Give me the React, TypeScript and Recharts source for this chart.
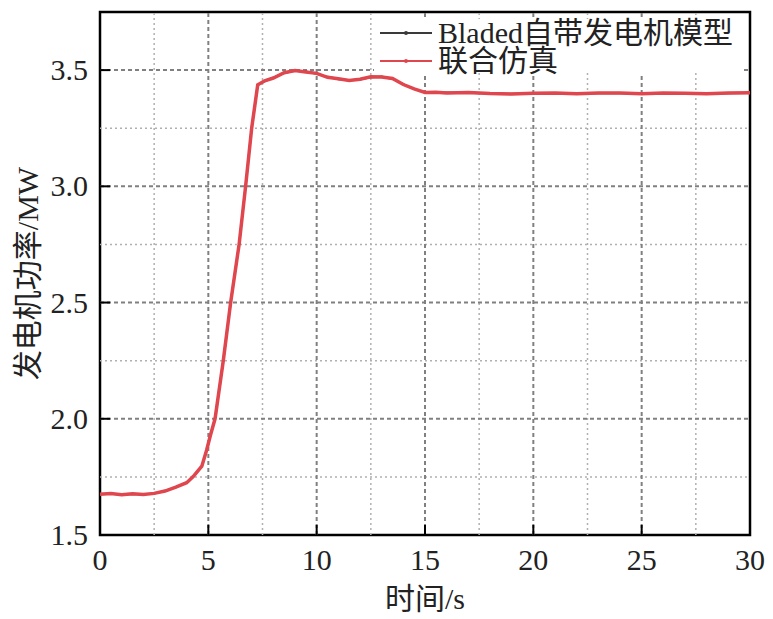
import { LineChart, Line, XAxis, YAxis, ReferenceLine, ReferenceArea, Legend, Label } from 'recharts';

// time (s)
const time = [
  0, 0.5, 1, 1.5, 2, 2.5, 3, 3.5, 4, 4.3, 4.7, 4.92, 5.1, 5.31, 5.69, 6.03, 6.42, 6.72, 7.0, 7.28,
  7.6, 8, 8.5, 9, 9.5, 10, 10.5, 11, 11.5, 12, 12.5, 13, 13.5, 14, 14.5, 15, 15.5, 16, 17, 18, 19,
  20, 21, 22, 23, 24, 25, 26, 27, 28, 29, 30,
];

// Bladed built-in generator model (MW)
const bladedPower = [
  1.676, 1.677, 1.674, 1.676, 1.675, 1.678, 1.69, 1.705, 1.726, 1.75, 1.795, 1.866, 1.93, 2.0, 2.25, 2.5, 2.75, 3.0, 3.25, 3.435,
  3.452, 3.468, 3.487, 3.497, 3.494, 3.484, 3.471, 3.461, 3.456, 3.46, 3.469, 3.472, 3.462, 3.44, 3.418, 3.405, 3.403, 3.404, 3.402, 3.4, 3.398,
  3.399, 3.401, 3.399, 3.4, 3.401, 3.399, 3.4, 3.401, 3.399, 3.4, 3.401,
];

// co-simulation (MW)
const cosimPower = [
  1.675, 1.678, 1.673, 1.677, 1.674, 1.679, 1.689, 1.706, 1.725, 1.751, 1.796, 1.865, 1.93, 2.0, 2.25, 2.5, 2.75, 3.0, 3.25, 3.437,
  3.454, 3.466, 3.489, 3.498, 3.492, 3.486, 3.469, 3.463, 3.455, 3.461, 3.471, 3.47, 3.464, 3.438, 3.419, 3.404, 3.405, 3.402, 3.404, 3.399, 3.397,
  3.4, 3.402, 3.398, 3.401, 3.402, 3.398, 3.401, 3.4, 3.398, 3.401, 3.403,
];

const xTicks = [0, 5, 10, 15, 20, 25, 30];
const yTicks = [1.5, 2.0, 2.5, 3.0, 3.5];
const xMinor = [2.5, 7.5, 12.5, 17.5, 22.5, 27.5];
const yMinor = [1.75, 2.25, 2.75, 3.25];
const xMajorGrid = [5, 10, 15, 20, 25];
const yMajorGrid = [2.0, 2.5, 3.0, 3.5];

const seriesNames = ['Bladed自带发电机模型', '联合仿真'];
const seriesColors = ['#3a3a3a', '#e0464d'];

const data = time.map((t, i) => ({ t, bladed: bladedPower[i], cosim: cosimPower[i] }));

const FONT = '"Liberation Serif", "Times New Roman", "Noto Sans CJK SC", serif';

const XTick = (props: any) => {
  const { x, y, payload } = props;
  return (
    <g>
      <line x1={x} x2={x} y1={y} y2={y - 10} stroke="#000" strokeWidth={2} />
      <text x={x} y={y + 35} textAnchor="middle" fontSize={30} fontFamily={FONT} fill="#222">
        {payload.value}
      </text>
    </g>
  );
};

const YTick = (props: any) => {
  const { x, y, payload } = props;
  return (
    <g>
      <line x1={x} x2={x + 10} y1={y} y2={y} stroke="#000" strokeWidth={2} />
      <text x={x - 12} y={y + 10} textAnchor="end" fontSize={30} fontFamily={FONT} fill="#222">
        {payload.value.toFixed(1)}
      </text>
    </g>
  );
};

const YTitle = (props: any) => {
  const { viewBox } = props;
  const cy = viewBox.y + viewBox.height / 2;
  return (
    <text
      x={27}
      y={cy}
      transform={`rotate(-90, 27, ${cy})`}
      textAnchor="middle"
      dominantBaseline="central"
      fontSize={30}
      fontFamily={FONT}
      fill="#222"
    >
      发电机功率/MW
    </text>
  );
};

// white box behind the legend hides the grid, stops above the curve
const LegendBox = () => (
  <div style={{ background: '#fff', height: 54, overflow: 'visible', paddingLeft: 6, fontFamily: FONT, fontSize: 30, color: '#222' }}>
    {seriesNames.map((name, i) => (
      <div key={name} style={{ display: 'flex', alignItems: 'center', height: 28, lineHeight: '28px' }}>
        <svg width={54} height={10} style={{ marginRight: 4 }}>
          <line x1={0} x2={52} y1={5} y2={5} stroke={seriesColors[i]} strokeWidth={2} />
          <circle cx={26} cy={5} r={2} fill={seriesColors[i]} />
        </svg>
        <span>{name}</span>
      </div>
    ))}
  </div>
);

export default function App() {
  return (
    <div style={{ position: 'fixed', left: 0, top: 0, background: '#fff' }}>
      <LineChart width={773} height={619} data={data} margin={{ top: 12, right: 23, left: 0, bottom: 0 }}>
        {xMinor.map((v) => (
          <ReferenceLine key={'xm' + v} x={v} stroke="#b0b0b0" strokeWidth={1.5} strokeDasharray="2 3" />
        ))}
        {yMinor.map((v) => (
          <ReferenceLine key={'ym' + v} y={v} stroke="#b0b0b0" strokeWidth={1.5} strokeDasharray="2 3" />
        ))}
        {xMajorGrid.map((v) => (
          <ReferenceLine key={'xM' + v} x={v} stroke="#808080" strokeWidth={2} strokeDasharray="4 3" />
        ))}
        {yMajorGrid.map((v) => (
          <ReferenceLine key={'yM' + v} y={v} stroke="#808080" strokeWidth={2} strokeDasharray="4 3" />
        ))}
        <XAxis
          dataKey="t"
          type="number"
          domain={[0, 30]}
          ticks={xTicks}
          height={84}
          tickSize={0}
          tickMargin={0}
          tickLine={false}
          axisLine={false}
          tick={<XTick />}
          interval={0}
        >
          <Label
            value="时间/s"
            position="insideBottom"
            offset={10}
            style={{ fontFamily: FONT, fontSize: 30, fill: '#222' }}
          />
        </XAxis>
        <YAxis
          type="number"
          domain={[1.5, 3.75]}
          ticks={yTicks}
          width={100}
          tickSize={0}
          tickMargin={0}
          tickLine={false}
          axisLine={false}
          tick={<YTick />}
          interval={0}
          allowDataOverflow
        >
          <Label content={<YTitle />} />
        </YAxis>
        <Legend
          layout="vertical"
          align="center"
          verticalAlign="middle"
          content={<LegendBox />}
          wrapperStyle={{ position: 'absolute', top: 19, left: 374, width: 370 }}
        />
        <Line
          dataKey="bladed"
          stroke={seriesColors[0]}
          strokeWidth={2}
          dot={false}
          isAnimationActive={false}
          legendType="line"
        />
        <Line
          dataKey="cosim"
          stroke={seriesColors[1]}
          strokeWidth={3.5}
          dot={false}
          isAnimationActive={false}
          legendType="line"
        />
        <ReferenceArea x1={0} x2={30} y1={1.5} y2={3.75} fill="none" stroke="#000" strokeWidth={2.5} />
      </LineChart>
    </div>
  );
}
